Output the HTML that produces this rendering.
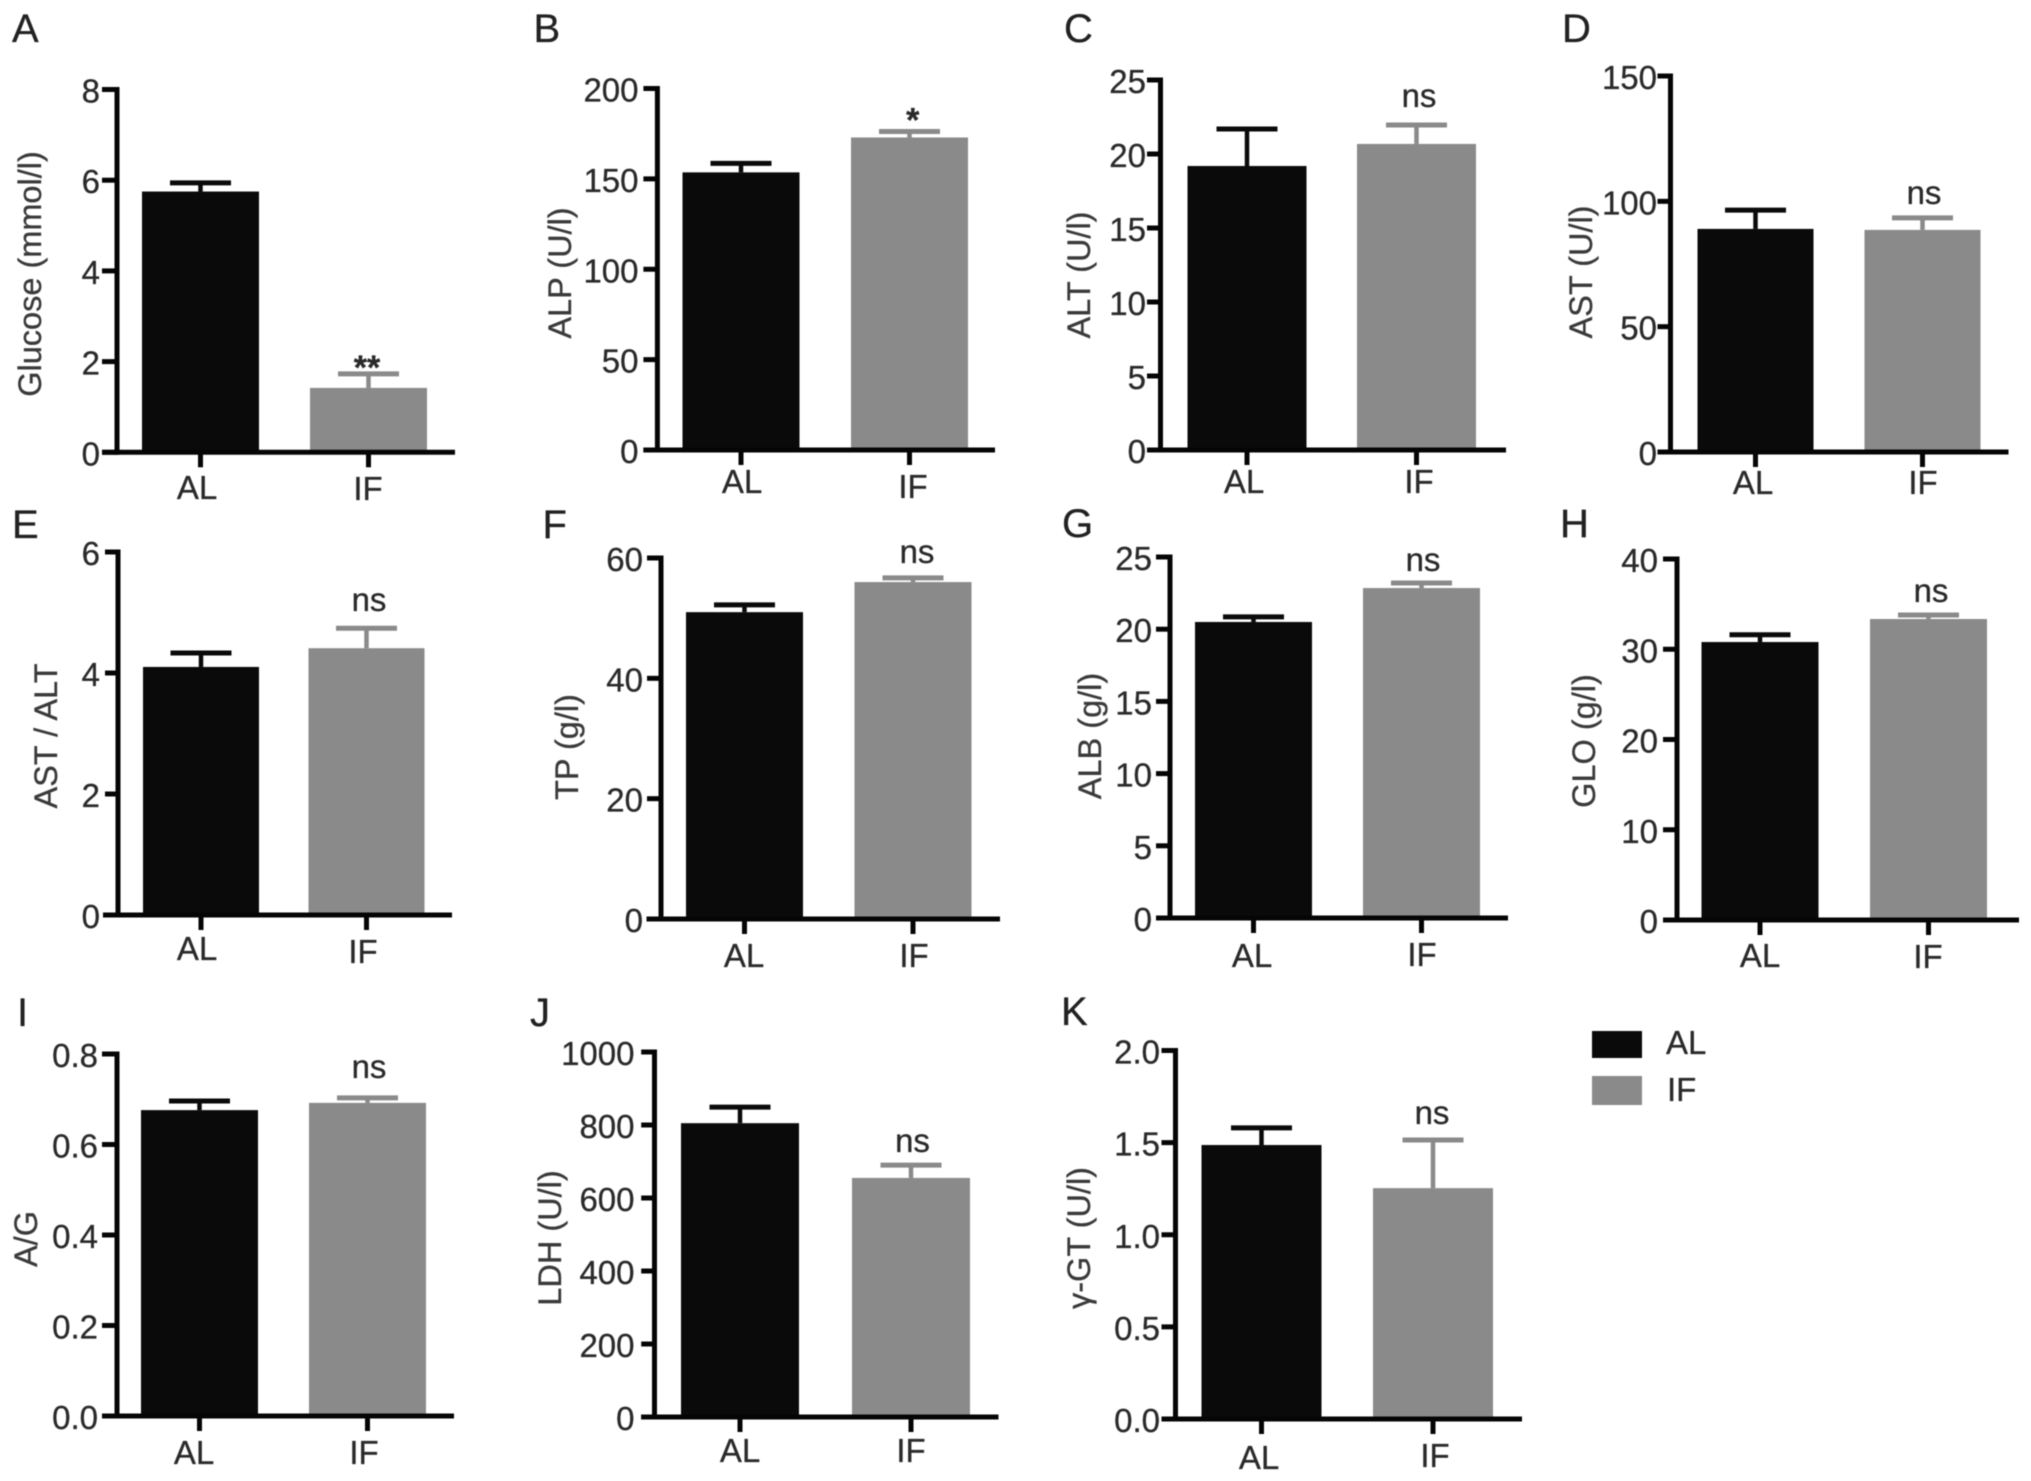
<!DOCTYPE html>
<html lang="en">
<head>
<meta charset="utf-8">
<title>Serum biochemistry bar charts, AL vs IF</title>
<style>
  html, body { margin: 0; padding: 0; background: #ffffff; }
  svg { display: block; filter: blur(0.6px); }
  text { font-family: "Liberation Sans", sans-serif; stroke: currentColor; stroke-width: 0.3px; }
</style>
</head>
<body>
<svg id="figure" xmlns="http://www.w3.org/2000/svg" width="2031" height="1481" viewBox="0 0 2031 1481">
  <rect x="0" y="0" width="2031" height="1481" fill="#ffffff"/>
  <g id="panels"></g>
  <g>
    <rect x="1592" y="1031" width="50" height="27" fill="#0a0a0a"/>
    <text x="1666" y="1054" font-size="33" fill="#2a2a2a" color="#2a2a2a">AL</text>
    <rect x="1592" y="1076" width="50" height="29" fill="#8a8a8a"/>
    <text x="1667" y="1101" font-size="33" fill="#2a2a2a" color="#2a2a2a">IF</text>
  </g>
</svg>
<script>
// Chart data
const categories = ['AL', 'IF'];
const panelLetters = ['A', 'B', 'C', 'D', 'E', 'F', 'G', 'H', 'I', 'J', 'K'];
const yAxisTitles = ['Glucose (mmol/l)', 'ALP (U/l)', 'ALT (U/l)', 'AST (U/l)', 'AST / ALT', 'TP (g/l)', 'ALB (g/l)', 'GLO (g/l)', 'A/G', 'LDH (U/l)', '\u03B3-GT (U/l)'];
const meanAL = [5.75, 153.6, 19.19, 89, 4.10, 51.0, 20.5, 30.8, 0.676, 805, 1.487];
const meanIF = [1.42, 172.9, 20.68, 88.6, 4.41, 56.0, 22.85, 33.35, 0.692, 655, 1.253];
const errorAL = [0.19, 5.0, 2.5, 7.5, 0.23, 1.2, 0.35, 0.8, 0.02, 44, 0.093];
const errorIF = [0.31, 3.3, 1.28, 4.8, 0.33, 0.7, 0.35, 0.45, 0.011, 35, 0.261];
const significance = ['**', '*', 'ns', 'ns', 'ns', 'ns', 'ns', 'ns', 'ns', 'ns', 'ns'];
const yTickLabels = [
  ['0', '2', '4', '6', '8'],
  ['0', '50', '100', '150', '200'],
  ['0', '5', '10', '15', '20', '25'],
  ['0', '50', '100', '150'],
  ['0', '2', '4', '6'],
  ['0', '20', '40', '60'],
  ['0', '5', '10', '15', '20', '25'],
  ['0', '10', '20', '30', '40'],
  ['0.0', '0.2', '0.4', '0.6', '0.8'],
  ['0', '200', '400', '600', '800', '1000'],
  ['0.0', '0.5', '1.0', '1.5', '2.0']
];

// Panel layout (frames only, no data)
const layout = [
  {axisX:117, top:89.5, zero:452.3, tickLeft:102, xStart:102, xEnd:455, c1:200.5, c2:368.5, hw:58.5, labelRight:100, titleX:41, titleY:274, letterX:12, letterY:42, alX:197, alY:499, ifX:368, ifY:500, annX:367, annGap:-5},
  {axisX:657.4, top:88.5, zero:450, tickLeft:643.4, xStart:643.4, xEnd:995, c1:741, c2:909.5, hw:58.5, labelRight:638.5, titleX:571, titleY:273, letterX:533.5, letterY:42, alX:742, alY:493, ifX:913, ifY:498, annX:912.7, annGap:0},
  {axisX:1160.5, top:80, zero:450, tickLeft:1147, xStart:1147, xEnd:1506, c1:1247, c2:1416.5, hw:59.5, labelRight:1146, titleX:1090, titleY:275, letterX:1064, letterY:42, alX:1244, alY:493, ifX:1419, ifY:493, annX:1419, annGap:18},
  {axisX:1670.5, top:76, zero:452, tickLeft:1657.5, xStart:1657.5, xEnd:2008.5, c1:1755.5, c2:1922.5, hw:58, labelRight:1657, titleX:1592, titleY:272, letterX:1562, letterY:42, alX:1753, alY:494, ifX:1923, ifY:494, annX:1924, annGap:14},
  {axisX:118, top:552, zero:915, tickLeft:105, xStart:103, xEnd:452, c1:201, c2:366.5, hw:58, labelRight:100, titleX:57, titleY:736, letterX:12, letterY:538, alX:197, alY:960, ifX:363, ifY:963, annX:369, annGap:17},
  {axisX:661, top:558, zero:919, tickLeft:647, xStart:646.5, xEnd:1000, c1:744.5, c2:913, hw:58.5, labelRight:643, titleX:578, titleY:747, letterX:542.5, letterY:538, alX:744, alY:967, ifX:914, ifY:967, annX:917, annGap:15},
  {axisX:1170, top:557, zero:918, tickLeft:1156, xStart:1167, xEnd:1508, c1:1253.5, c2:1421.5, hw:58.5, labelRight:1152, titleX:1101, titleY:736, letterX:1062, letterY:537, alX:1252, alY:967, ifX:1422, ifY:966, annX:1423, annGap:12},
  {axisX:1677, top:559, zero:920, tickLeft:1663, xStart:1663, xEnd:2019, c1:1760, c2:1928.5, hw:58.5, labelRight:1658, titleX:1595, titleY:741, letterX:1560, letterY:537, alX:1760, alY:967, ifX:1928, ifY:968, annX:1931, annGap:13},
  {axisX:117, top:1054, zero:1416, tickLeft:102, xStart:102, xEnd:454, c1:199.5, c2:367.5, hw:58.5, labelRight:98, titleX:37, titleY:1239, letterX:17, letterY:1026, alX:194, alY:1464, ifX:364, ifY:1464, annX:369, annGap:20},
  {axisX:654.5, top:1052, zero:1417, tickLeft:641.2, xStart:641.2, xEnd:998.5, c1:740, c2:911, hw:59, labelRight:634.5, titleX:561, titleY:1238, letterX:530, letterY:1026, alX:740, alY:1462, ifX:911, ifY:1462, annX:912.5, annGap:13},
  {axisX:1175.5, top:1050.5, zero:1419, tickLeft:1161.5, xStart:1161.5, xEnd:1522, c1:1261.5, c2:1433, hw:60, labelRight:1160, titleX:1090, titleY:1238, letterX:1061, letterY:1025, alX:1259, alY:1469, ifX:1435, ifY:1467, annX:1432, annGap:16}
];

const SVG_NS = 'http://www.w3.org/2000/svg';
const COLOR_AL = '#0a0a0a';
const COLOR_IF = '#8a8a8a';
const COLOR_AXIS = '#050505';
const COLOR_TEXT = '#2a2a2a';
const AXIS_WIDTH = 5;
const TICK_LENGTH = 15;
const CAP_HALF = 30.5;
const FONT_TICK = 33;

function make(tag, attrs, parent, content) {
  const el = document.createElementNS(SVG_NS, tag);
  for (const key in attrs) el.setAttribute(key, attrs[key]);
  if (content !== undefined) el.textContent = content;
  parent.appendChild(el);
  return el;
}

function yScale(panelIndex, value) {
  const f = layout[panelIndex];
  const labels = yTickLabels[panelIndex];
  const max = parseFloat(labels[labels.length - 1]);
  return f.zero - (value / max) * (f.zero - f.top);
}

function xScale(panelIndex, categoryIndex) {
  const f = layout[panelIndex];
  return f.c1 + categoryIndex * (f.c2 - f.c1);
}

function drawPanel(root, p) {
  const f = layout[p];
  const slug = yAxisTitles[p].split(' ')[0].replace(/[^A-Za-z-]/g, '').toLowerCase() || 'panel';

  const g = make('g', {}, root);
  
  

  const letter = make('text', {x: f.letterX, y: f.letterY, 'font-size': 40, fill: '#222222', color: '#222222'}, g, panelLetters[p]);
  
  

  const title = make('text', {
    x: f.titleX, y: f.titleY, 'font-size': 32.5, fill: '#3a3a3a', color: '#3a3a3a', 'text-anchor': 'middle',
    transform: 'rotate(-90 ' + f.titleX + ' ' + f.titleY + ')'
  }, g, yAxisTitles[p]);
  
  

  const means = [meanAL[p], meanIF[p]];
  const errors = [errorAL[p], errorIF[p]];
  const colors = [COLOR_AL, COLOR_IF];

  categories.forEach(function (cat, i) {
    const cx = xScale(p, i);
    const yTop = yScale(p, means[i]);
    const yErr = yScale(p, means[i] + errors[i]);

    const stem = make('line', {x1: cx, x2: cx, y1: yTop, y2: yErr, stroke: colors[i], 'stroke-width': 4.5}, g);
    
    

    const cap = make('line', {x1: cx - CAP_HALF, x2: cx + CAP_HALF, y1: yErr, y2: yErr, stroke: colors[i], 'stroke-width': 5}, g);
    
    

    const bar = make('rect', {x: cx - f.hw, y: yTop, width: f.hw * 2, height: f.zero - yTop, fill: colors[i]}, g);
    
    

    const tick = make('line', {x1: cx, x2: cx, y1: f.zero, y2: f.zero + TICK_LENGTH, stroke: COLOR_AXIS, 'stroke-width': AXIS_WIDTH}, g);
    
    

    const labelX = i === 0 ? f.alX : f.ifX;
    const labelY = i === 0 ? f.alY : f.ifY;
    const label = make('text', {x: labelX, y: labelY, 'font-size': FONT_TICK, fill: COLOR_TEXT, color: COLOR_TEXT, 'text-anchor': 'middle'}, g, cat);
    
    
  });

  const yAxis = make('line', {x1: f.axisX, x2: f.axisX, y1: f.top - 2.5, y2: f.zero + 2.5, stroke: COLOR_AXIS, 'stroke-width': AXIS_WIDTH}, g);
  
  

  const xAxis = make('line', {x1: f.xStart, x2: f.xEnd, y1: f.zero, y2: f.zero, stroke: COLOR_AXIS, 'stroke-width': AXIS_WIDTH}, g);
  
  

  yTickLabels[p].forEach(function (text) {
    const y = yScale(p, parseFloat(text));

    const tick = make('line', {x1: f.tickLeft, x2: f.axisX, y1: y, y2: y, stroke: COLOR_AXIS, 'stroke-width': AXIS_WIDTH}, g);
    
    

    const label = make('text', {x: f.labelRight, y: y + 13, 'font-size': FONT_TICK, fill: COLOR_TEXT, color: COLOR_TEXT, 'text-anchor': 'end'}, g, text);
    
    
  });

  const mark = significance[p];
  const isStar = mark.charAt(0) === '*';
  const annY = yScale(p, meanIF[p] + errorIF[p]) - f.annGap;
  const ann = make('text', {
    x: f.annX, y: annY, 'font-size': isStar ? 34 : FONT_TICK, 'font-weight': isStar ? 'bold' : 'normal',
    fill: COLOR_TEXT, color: COLOR_TEXT, 'text-anchor': 'middle'
  }, g, mark);
  
  
}

const panelRoot = document.getElementById('panels');
panelLetters.forEach(function (_, p) { drawPanel(panelRoot, p); });
</script>
</body>
</html>
